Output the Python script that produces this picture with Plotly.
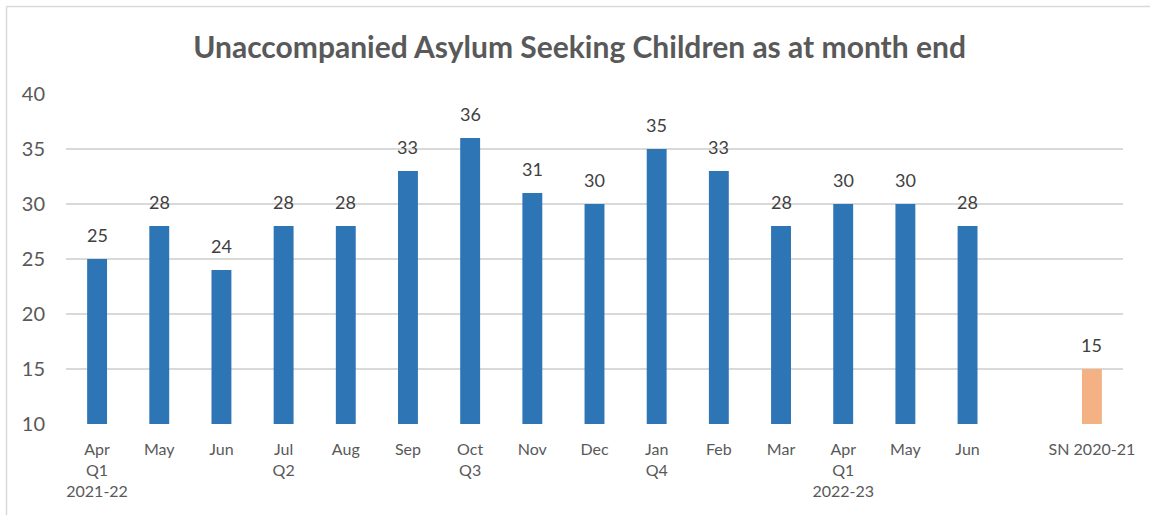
import plotly.graph_objects as go

months = ["Apr", "May", "Jun", "Jul", "Aug", "Sep", "Oct", "Nov", "Dec",
          "Jan", "Feb", "Mar", "Apr", "May", "Jun", "", "SN 2020-21"]
quarters = ["Q1", "", "", "Q2", "", "", "Q3", "", "", "Q4", "", "", "Q1", "", "", "", ""]
years = ["2021-22", "", "", "", "", "", "", "", "", "", "", "", "2022-23", "", "", "", ""]
values = [25, 28, 24, 28, 28, 33, 36, 31, 30, 35, 33, 28, 30, 30, 28, None, 15]
colors = ["#2E75B6"] * 16 + ["#F4B183"]

tick_text = []
for m, q, y in zip(months, quarters, years):
    parts = [m]
    if q or y:
        parts.append(q)
    if y:
        parts.append(y)
    tick_text.append("<br>".join(parts))

x_idx = list(range(len(months)))
FONT = "Lato"
GRAY = "#595959"

fig = go.Figure()
fig.add_trace(go.Bar(
    x=x_idx, y=[v - 10 if v is not None else None for v in values], base=10,
    marker=dict(color=colors, line=dict(width=0)),
    width=0.32, hoverinfo="skip", showlegend=False,
))

annotations = []
for i, v in zip(x_idx, values):
    if v is None:
        continue
    annotations.append(dict(
        x=i, y=v, xref="x", yref="y", text=str(v), showarrow=False,
        yanchor="bottom", yshift=11,
        font=dict(family=FONT, size=18, color="#404040"),
    ))

fig.update_layout(
    width=1150, height=515,
    margin=dict(l=66, r=27, t=94, b=91),
    paper_bgcolor="white", plot_bgcolor="white",
    title=dict(
        text="<b>Unaccompanied Asylum Seeking Children as at month end</b>",
        x=0.504, xref="container", xanchor="center",
        y=1 - 47 / 515, yref="container", yanchor="middle",
        font=dict(family=FONT, size=30, color=GRAY),
    ),
    xaxis=dict(
        range=[-0.5, len(months) - 0.5],
        tickmode="array", tickvals=x_idx, ticktext=tick_text,
        showgrid=False, zeroline=False, showline=False, ticks="",
        ticklabelstandoff=14,
        tickfont=dict(family=FONT, size=16, color=GRAY),
    ),
    yaxis=dict(
        range=[10, 40], tickvals=[10, 15, 20, 25, 30, 35, 40],
        showgrid=True, gridcolor="#D9D9D9", gridwidth=1.5,
        zeroline=False, showline=False, ticks="",
        ticklabelstandoff=20,
        tickfont=dict(family=FONT, size=20, color=GRAY),
    ),
    annotations=annotations,
    shapes=[
        dict(type="line", xref="paper", yref="paper",
             x0=(6.5 - 66) / 1057, x1=(1160 - 66) / 1057,
             y0=(424 - 6.5) / 330, y1=(424 - 6.5) / 330,
             line=dict(color="#D9D9D9", width=1.5)),
        dict(type="line", xref="paper", yref="paper",
             x0=(6.5 - 66) / 1057, x1=(6.5 - 66) / 1057,
             y0=(424 - 6.5) / 330, y1=(424 - 530) / 330,
             line=dict(color="#D9D9D9", width=1.5)),
    ],
)

fig.write_html("out.html")
